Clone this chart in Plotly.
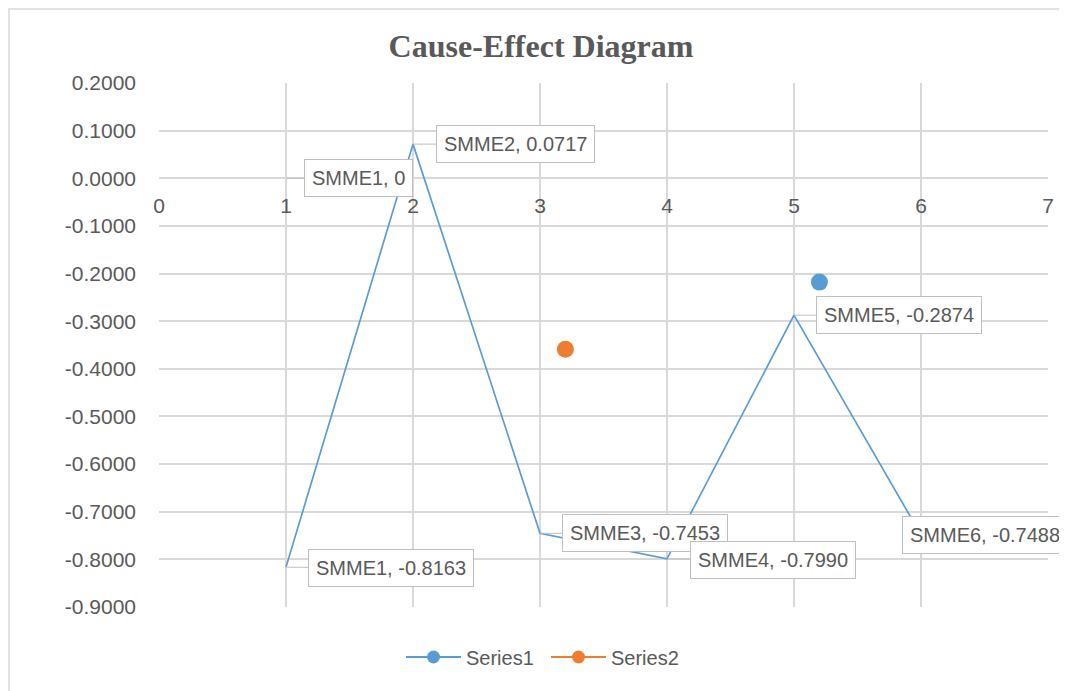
import plotly.graph_objects as go

# Data
smme_labels = ["SMME1", "SMME2", "SMME3", "SMME4", "SMME5", "SMME6"]
series1_x = [1, 2, 3, 4, 5, 6]
series1_y = [-0.8163, 0.0717, -0.7453, -0.7990, -0.2874, -0.7488]
extra_label_x = [1]
extra_label_y = [0.0]
extra_label_name = ["SMME1"]
series1_marker_x = [5.2]
series1_marker_y = [-0.218]
series2_marker_x = [3.2]
series2_marker_y = [-0.359]

x_ticks = [0, 1, 2, 3, 4, 5, 6, 7]
y_ticks = [0.2, 0.1, 0.0, -0.1, -0.2, -0.3, -0.4, -0.5, -0.6, -0.7, -0.8, -0.9]

BLUE = "#5B9BD5"
ORANGE = "#ED7D31"
GRID = "#D9D9D9"
TXT = "#595959"
FONT = "Liberation Sans"

fig = go.Figure()

fig.add_trace(go.Scatter(x=series1_x, y=series1_y, mode="lines",
                         line=dict(color=BLUE, width=1.7), showlegend=False,
                         hoverinfo="skip"))
fig.add_trace(go.Scatter(x=series1_marker_x, y=series1_marker_y, mode="markers",
                         marker=dict(color=BLUE, size=17), showlegend=False))
fig.add_trace(go.Scatter(x=series2_marker_x, y=series2_marker_y, mode="markers",
                         marker=dict(color=ORANGE, size=17), showlegend=False))
# legend entries
fig.add_trace(go.Scatter(x=[None], y=[None], mode="lines+markers", name="Series1",
                         line=dict(color=BLUE, width=2), marker=dict(color=BLUE, size=13)))
fig.add_trace(go.Scatter(x=[None], y=[None], mode="lines+markers", name="Series2",
                         line=dict(color=ORANGE, width=2), marker=dict(color=ORANGE, size=13)))

# label offsets (pixels) for each data label box
offsets = [(105, 1), (102, 0), (105, 0), (106, 1), (105, 0), (64, 0)]
annotations = []


def add_label(name, x, y, ax, ay):
    annotations.append(dict(
        x=x, y=y, xref="x", yref="y", ax=ax, ay=ay,
        text=f"{name}, {y:.4f}" if y != 0 else f"{name}, 0",
        showarrow=True, arrowhead=0, arrowwidth=1, arrowcolor="#BFBFBF",
        standoff=0, startstandoff=0,
        bgcolor="white", bordercolor="#BFBFBF", borderwidth=1, borderpad=7,
        font=dict(family=FONT, size=20, color=TXT)))


for name, x, y, (ax, ay) in zip(smme_labels, series1_x, series1_y, offsets):
    add_label(name, x, y, ax, ay)
for name, x, y in zip(extra_label_name, extra_label_x, extra_label_y):
    add_label(name, x, y, 72, 0)

W, H = 1067, 683
L, R, T, B = 151, 27, 75, 84
PW, PH = W - L - R, H - T - B

fig.update_layout(
    width=W, height=H,
    margin=dict(l=L, r=R, t=T, b=B),
    paper_bgcolor="white", plot_bgcolor="white",
    title=dict(text="<b>Cause-Effect Diagram</b>", x=(541 - 8) / W, xanchor="center",
               y=1 - 38 / H, yanchor="middle",
               font=dict(family="Liberation Serif", size=32, color=TXT)),
    xaxis=dict(range=[0, 7], tickvals=x_ticks, ticktext=[str(v) for v in x_ticks],
               showgrid=True, gridcolor=GRID, gridwidth=1.5, zeroline=False,
               showline=False, anchor="free", position=0.9 / 1.1,
               ticks="", ticklabelstandoff=13,
               tickfont=dict(family=FONT, size=21, color=TXT)),
    yaxis=dict(range=[-0.9, 0.2], tickvals=y_ticks, ticktext=[f"{v:.4f}" for v in y_ticks],
               showgrid=True, gridcolor=GRID, gridwidth=1.5, zeroline=True,
               zerolinecolor=GRID, zerolinewidth=1.5, showline=False, ticks="",
               ticklabelstandoff=22,
               tickfont=dict(family=FONT, size=21, color=TXT)),
    legend=dict(orientation="h", x=(414 - 8 - L - 13) / PW, xanchor="left",
                y=-50 / PH, yanchor="middle",
                font=dict(family=FONT, size=20, color=TXT), itemwidth=55,
                entrywidth=75, entrywidthmode="pixels",
                bgcolor="rgba(0,0,0,0)"),
    annotations=annotations,
    shapes=[dict(type="rect", xref="paper", yref="paper",
                 x0=-(L - 1) / PW, x1=1.2, y0=-0.4, y1=1 + (T - 1) / PH,
                 line=dict(color=GRID, width=1.5), fillcolor="rgba(0,0,0,0)",
                 layer="below")],
)

fig.write_html("out.html")
